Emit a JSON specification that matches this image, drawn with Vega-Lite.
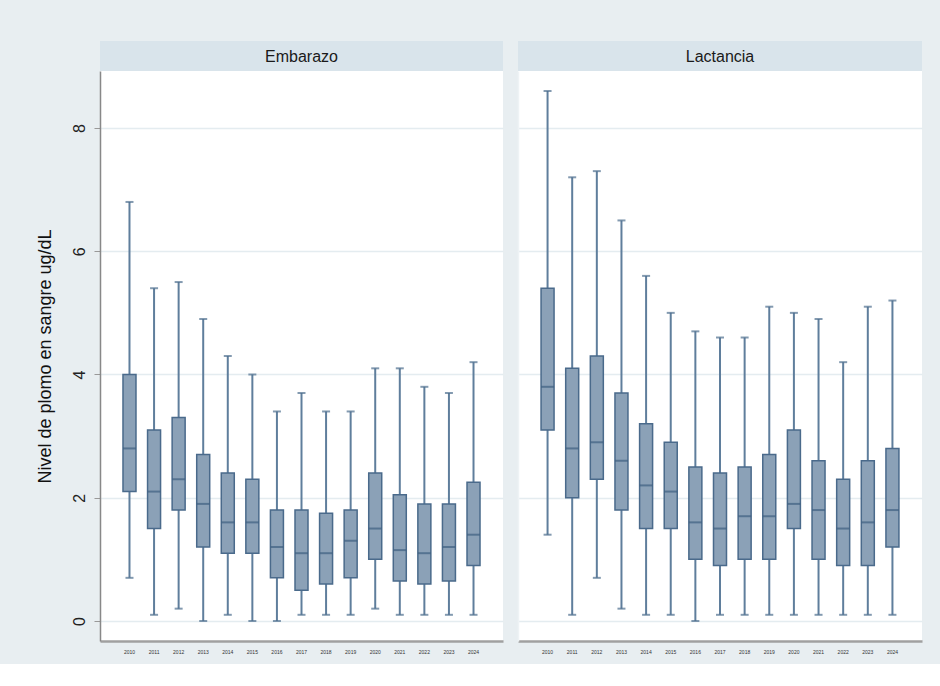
{
  "$schema": "https://vega.github.io/schema/vega-lite/v6.json",
  "background": "#e8eef1",
  "padding": {"left": 36, "top": 41, "right": 18, "bottom": 10},
  "config": {
    "font": "Liberation Sans",
    "concat": {"spacing": 15}
  },
  "datasets": {
    "boxes": [
      {"group": "Embarazo", "year": "2010", "lo": 0.7, "q1": 2.1, "med": 2.8, "q3": 4.0, "hi": 6.8},
      {"group": "Embarazo", "year": "2011", "lo": 0.1, "q1": 1.5, "med": 2.1, "q3": 3.1, "hi": 5.4},
      {"group": "Embarazo", "year": "2012", "lo": 0.2, "q1": 1.8, "med": 2.3, "q3": 3.3, "hi": 5.5},
      {"group": "Embarazo", "year": "2013", "lo": 0.0, "q1": 1.2, "med": 1.9, "q3": 2.7, "hi": 4.9},
      {"group": "Embarazo", "year": "2014", "lo": 0.1, "q1": 1.1, "med": 1.6, "q3": 2.4, "hi": 4.3},
      {"group": "Embarazo", "year": "2015", "lo": 0.0, "q1": 1.1, "med": 1.6, "q3": 2.3, "hi": 4.0},
      {"group": "Embarazo", "year": "2016", "lo": 0.0, "q1": 0.7, "med": 1.2, "q3": 1.8, "hi": 3.4},
      {"group": "Embarazo", "year": "2017", "lo": 0.1, "q1": 0.5, "med": 1.1, "q3": 1.8, "hi": 3.7},
      {"group": "Embarazo", "year": "2018", "lo": 0.1, "q1": 0.6, "med": 1.1, "q3": 1.75, "hi": 3.4},
      {"group": "Embarazo", "year": "2019", "lo": 0.1, "q1": 0.7, "med": 1.3, "q3": 1.8, "hi": 3.4},
      {"group": "Embarazo", "year": "2020", "lo": 0.2, "q1": 1.0, "med": 1.5, "q3": 2.4, "hi": 4.1},
      {"group": "Embarazo", "year": "2021", "lo": 0.1, "q1": 0.65, "med": 1.15, "q3": 2.05, "hi": 4.1},
      {"group": "Embarazo", "year": "2022", "lo": 0.1, "q1": 0.6, "med": 1.1, "q3": 1.9, "hi": 3.8},
      {"group": "Embarazo", "year": "2023", "lo": 0.1, "q1": 0.65, "med": 1.2, "q3": 1.9, "hi": 3.7},
      {"group": "Embarazo", "year": "2024", "lo": 0.1, "q1": 0.9, "med": 1.4, "q3": 2.25, "hi": 4.2},
      {"group": "Lactancia", "year": "2010", "lo": 1.4, "q1": 3.1, "med": 3.8, "q3": 5.4, "hi": 8.6},
      {"group": "Lactancia", "year": "2011", "lo": 0.1, "q1": 2.0, "med": 2.8, "q3": 4.1, "hi": 7.2},
      {"group": "Lactancia", "year": "2012", "lo": 0.7, "q1": 2.3, "med": 2.9, "q3": 4.3, "hi": 7.3},
      {"group": "Lactancia", "year": "2013", "lo": 0.2, "q1": 1.8, "med": 2.6, "q3": 3.7, "hi": 6.5},
      {"group": "Lactancia", "year": "2014", "lo": 0.1, "q1": 1.5, "med": 2.2, "q3": 3.2, "hi": 5.6},
      {"group": "Lactancia", "year": "2015", "lo": 0.1, "q1": 1.5, "med": 2.1, "q3": 2.9, "hi": 5.0},
      {"group": "Lactancia", "year": "2016", "lo": 0.0, "q1": 1.0, "med": 1.6, "q3": 2.5, "hi": 4.7},
      {"group": "Lactancia", "year": "2017", "lo": 0.1, "q1": 0.9, "med": 1.5, "q3": 2.4, "hi": 4.6},
      {"group": "Lactancia", "year": "2018", "lo": 0.1, "q1": 1.0, "med": 1.7, "q3": 2.5, "hi": 4.6},
      {"group": "Lactancia", "year": "2019", "lo": 0.1, "q1": 1.0, "med": 1.7, "q3": 2.7, "hi": 5.1},
      {"group": "Lactancia", "year": "2020", "lo": 0.1, "q1": 1.5, "med": 1.9, "q3": 3.1, "hi": 5.0},
      {"group": "Lactancia", "year": "2021", "lo": 0.1, "q1": 1.0, "med": 1.8, "q3": 2.6, "hi": 4.9},
      {"group": "Lactancia", "year": "2022", "lo": 0.1, "q1": 0.9, "med": 1.5, "q3": 2.3, "hi": 4.2},
      {"group": "Lactancia", "year": "2023", "lo": 0.1, "q1": 0.9, "med": 1.6, "q3": 2.6, "hi": 5.1},
      {"group": "Lactancia", "year": "2024", "lo": 0.1, "q1": 1.2, "med": 1.8, "q3": 2.8, "hi": 5.2}
    ]
  },
  "hconcat": [
    {
      "spacing": 0,
      "vconcat": [
        {
          "width": 403, "height": 30,
          "view": {"fill": "#d9e4eb", "stroke": null},
          "data": {"values": [{"label": "Embarazo"}]},
          "mark": {"type": "text", "fontSize": 16, "color": "#1a1a1a", "baseline": "middle", "dy": 1},
          "encoding": {"text": {"field": "label"}}
        },
        {
          "width": 403, "height": 570,
          "view": {"fill": "white", "stroke": null},
          "data": {"name": "boxes"},
          "transform": [{"filter": "datum.group === 'Embarazo'"}],
          "encoding": {
            "x": {"field": "year", "type": "ordinal", "scale": {"paddingInner": 0, "paddingOuter": 0.7},
              "axis": {"title": null, "labelAngle": 0, "labelFontSize": 5, "labelColor": "#333", "labelPadding": 8, "ticks": false, "domainColor": "#a0a0a0", "domainWidth": 2.5, "grid": false}}
          },
          "layer": [
            {
              "mark": {"type": "rule", "color": "#5f7e9c", "strokeWidth": 2},
              "encoding": {
                "y": {"field": "lo", "type": "quantitative", "scale": {"domain": [-0.325, 8.925], "nice": false, "zero": false},
                  "axis": {"title": "Nivel de plomo en sangre ug/dL", "titleFontSize": 18, "titleFontWeight": "normal", "titleColor": "#111", "titlePadding": 17,
                    "values": [0, 2, 4, 6, 8], "format": "d", "labelAngle": -90, "labelAlign": "center", "labelBaseline": "bottom", "labelFontSize": 16, "labelColor": "#222", "labelPadding": 7,
                    "tickSize": 6, "tickColor": "#999", "domainColor": "#888", "domainWidth": 1.5,
                    "grid": true, "gridColor": "#e4ecf0", "gridWidth": 1.5}},
                "y2": {"field": "hi"}
              }
            },
            {
              "mark": {"type": "tick", "color": "#4f6f8f", "size": 8, "thickness": 2},
              "encoding": {"y": {"field": "lo", "type": "quantitative"}}
            },
            {
              "mark": {"type": "tick", "color": "#4f6f8f", "size": 8, "thickness": 2},
              "encoding": {"y": {"field": "hi", "type": "quantitative"}}
            },
            {
              "mark": {"type": "bar", "size": 13, "fill": "#8ba1b7", "stroke": "#4a6a8b", "strokeWidth": 1.5},
              "encoding": {"y": {"field": "q1", "type": "quantitative"}, "y2": {"field": "q3"}}
            },
            {
              "mark": {"type": "tick", "color": "#3f5f80", "size": 13, "thickness": 2},
              "encoding": {"y": {"field": "med", "type": "quantitative"}}
            }
          ]
        }
      ]
    },
    {
      "spacing": 0,
      "vconcat": [
        {
          "width": 404, "height": 30,
          "view": {"fill": "#d9e4eb", "stroke": null},
          "data": {"values": [{"label": "Lactancia"}]},
          "mark": {"type": "text", "fontSize": 16, "color": "#1a1a1a", "baseline": "middle", "dy": 1},
          "encoding": {"text": {"field": "label"}}
        },
        {
          "width": 404, "height": 570,
          "view": {"fill": "white", "stroke": null},
          "data": {"name": "boxes"},
          "transform": [{"filter": "datum.group === 'Lactancia'"}],
          "encoding": {
            "x": {"field": "year", "type": "ordinal", "scale": {"paddingInner": 0, "paddingOuter": 0.7},
              "axis": {"title": null, "labelAngle": 0, "labelFontSize": 5, "labelColor": "#333", "labelPadding": 8, "ticks": false, "domainColor": "#a0a0a0", "domainWidth": 2.5, "grid": false}}
          },
          "layer": [
            {
              "mark": {"type": "rule", "color": "#5f7e9c", "strokeWidth": 2},
              "encoding": {
                "y": {"field": "lo", "type": "quantitative", "scale": {"domain": [-0.325, 8.925], "nice": false, "zero": false},
                  "axis": {"title": null, "values": [0, 2, 4, 6, 8], "labels": false, "ticks": false, "domain": true, "domainColor": "#eef3f5", "domainWidth": 1.5,
                    "grid": true, "gridColor": "#e4ecf0", "gridWidth": 1.5}},
                "y2": {"field": "hi"}
              }
            },
            {
              "mark": {"type": "tick", "color": "#4f6f8f", "size": 8, "thickness": 2},
              "encoding": {"y": {"field": "lo", "type": "quantitative"}}
            },
            {
              "mark": {"type": "tick", "color": "#4f6f8f", "size": 8, "thickness": 2},
              "encoding": {"y": {"field": "hi", "type": "quantitative"}}
            },
            {
              "mark": {"type": "bar", "size": 13, "fill": "#8ba1b7", "stroke": "#4a6a8b", "strokeWidth": 1.5},
              "encoding": {"y": {"field": "q1", "type": "quantitative"}, "y2": {"field": "q3"}}
            },
            {
              "mark": {"type": "tick", "color": "#3f5f80", "size": 13, "thickness": 2},
              "encoding": {"y": {"field": "med", "type": "quantitative"}}
            }
          ]
        }
      ]
    }
  ]
}
